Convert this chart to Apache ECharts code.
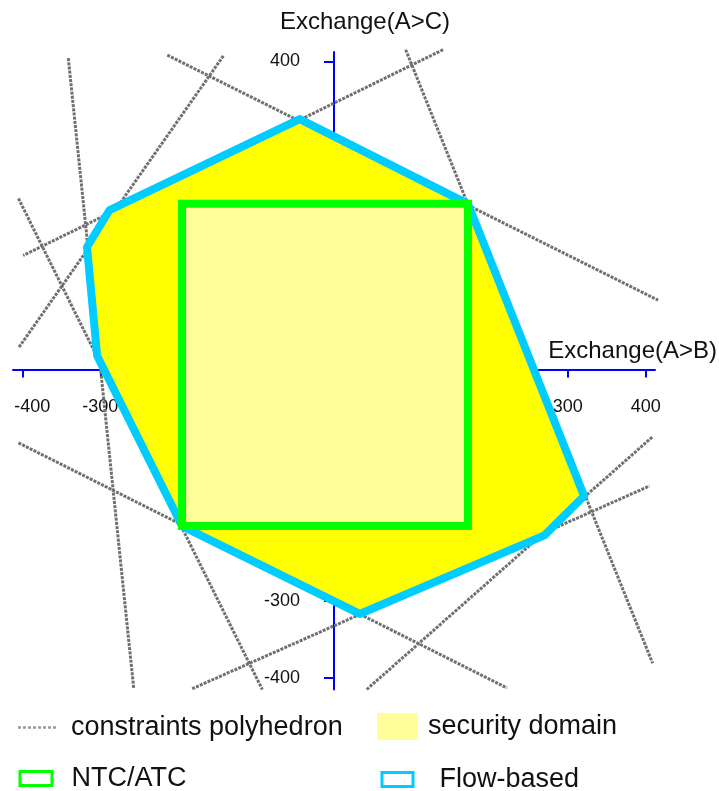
<!DOCTYPE html>
<html lang="en">
<head>
<meta charset="UTF-8">
<title>Flow-based vs NTC/ATC</title>
<script src="https://cdn.jsdelivr.net/npm/echarts@6/dist/echarts.min.js"></script>
<style>
    html, body { margin: 0; padding: 0; background: #fff; }
    #main { width: 719px; height: 791px; }
</style>
</head>
<body>
<div id="main"></div>
<script type="text/javascript">
    // constraint lines, two end points each: [Exchange(A>B), Exchange(A>C)]
    var constraintLines = [
        [[-341, 404], [-257, -414]],
        [[-142, 407], [-405, 28]],
        [[-214, 408], [416, 90]],
        [[140, 415], [-399, 148]],
        [[92, 415], [409, -381]],
        [[-405, 222], [-92, -415]],
        [[-405, -95], [222, -413]],
        [[-182, -414], [405, -151]],
        [[42, -415], [409, -87]]
    ];
    // flow-based domain vertices
    var flowBased = [[-44, 325], [172, 215], [321, -164], [270, -215], [33, -317],
                     [-195, -203], [-304, 18], [-317, 159], [-288, 207]];
    // NTC/ATC box
    var ntcAtc = [[-195, 215], [172, 215], [172, -203], [-195, -203]];
    var tickValues = [-400, -300, -200, -100, 0, 100, 200, 300, 400];
    var xLabelValues = [-400, -300, 300, 400];
    var yLabelValues = [-400, -300, 400];

    var FONT = "'Liberation Sans', Arial, sans-serif";
    var dashIcon = 'path://M0,0h3v2.5h-3zM5,0h3v2.5h-3zM10,0h3v2.5h-3zM15,0h3v2.5h-3zM20,0h3v2.5h-3zM25,0h3v2.5h-3zM30,0h3v2.5h-3zM35,0h3v2.5h-3z';

    function polygonRender(fill, stroke, join) {
        return function (params, api) {
            if (params.dataIndexInside !== 0) return null;
            var pts = [];
            for (var i = 0; i < params.dataInsideLength; i++) {
                pts.push(api.coord([api.value(0, i), api.value(1, i)]));
            }
            return {
                type: 'polygon',
                shape: { points: pts },
                style: { fill: fill, stroke: stroke, lineWidth: stroke ? 8 : 0, lineJoin: join }
            };
        };
    }

    function legendText(padLeft) {
        return { fontFamily: FONT, fontSize: 27, color: '#111', padding: [0, 0, 0, padLeft] };
    }

    var lineData = constraintLines.map(function (l) { return { coords: l }; });

    var myChart = echarts.init(document.getElementById('main'));
    myChart.setOption({
        animation: false,
        grid: { left: 13, right: 64, top: 52, bottom: 101.5, containLabel: false, outerBoundsMode: 'none' },
        xAxis: {
            type: 'value', min: -412, max: 412,
            position: 'bottom', offset: -320,
            name: 'Exchange(A>B)', nameLocation: 'end', nameGap: 62,
            nameTextStyle: { fontFamily: FONT, fontSize: 24, color: '#111', align: 'right', verticalAlign: 'bottom', padding: [0, 0, 6, 0] },
            axisLine: { onZero: false, lineStyle: { color: '#0000ff', width: 2 } },
            axisTick: { show: true, inside: false, length: 8, customValues: tickValues, lineStyle: { color: '#0000ff', width: 2 } },
            axisLabel: {
                customValues: xLabelValues, margin: 29, fontFamily: FONT, fontSize: 18, color: '#111',
                // the -400 label sits a bit to the right of its tick
                formatter: function (v) { return v === -400 ? '{m|' + v + '}' : String(v); },
                rich: { m: { fontFamily: FONT, fontSize: 18, color: '#111', padding: [0, 0, 0, 20] } }
            },
            splitLine: { show: false }
        },
        yAxis: {
            type: 'value', min: -415, max: 412,
            position: 'left', offset: -321,
            name: 'Exchange(A>C)', nameLocation: 'end', nameGap: 18,
            nameTextStyle: { fontFamily: FONT, fontSize: 24, color: '#111', padding: [0, 0, 0, 62] },
            axisLine: { onZero: false, lineStyle: { color: '#0000ff', width: 2 } },
            axisTick: { show: true, inside: false, length: 10, customValues: tickValues, lineStyle: { color: '#0000ff', width: 2 } },
            axisLabel: { customValues: yLabelValues, margin: 34, fontFamily: FONT, fontSize: 18, color: '#111' },
            splitLine: { show: false }
        },
        legend: [
            {
                left: 18, top: 714, padding: 0, selectedMode: false,
                itemWidth: 38, itemHeight: 2.5,
                data: [{ name: 'constraints polyhedron', icon: dashIcon, itemStyle: { color: '#9a9a9a', borderWidth: 0 } }],
                textStyle: legendText(10)
            },
            {
                left: 377, top: 713, padding: 0, selectedMode: false,
                itemWidth: 41, itemHeight: 27,
                data: [{ name: 'security domain', icon: 'rect', itemStyle: { color: '#ffff99', borderWidth: 0 } }],
                textStyle: legendText(5)
            },
            {
                left: 18.5, top: 765, padding: 0, selectedMode: false,
                itemWidth: 32, itemHeight: 14,
                data: [{ name: 'NTC/ATC', icon: 'rect', itemStyle: { color: '#fff', borderColor: '#00ff00', borderWidth: 3 } }],
                textStyle: legendText(14.5)
            },
            {
                left: 380.5, top: 766, padding: 0, selectedMode: false,
                itemWidth: 31, itemHeight: 14,
                data: [{ name: 'Flow-based', icon: 'rect', itemStyle: { color: '#fff', borderColor: '#00ccff', borderWidth: 3 } }],
                textStyle: legendText(21.5)
            }
        ],
        series: [
            {
                name: 'constraints polyhedron',
                type: 'lines',
                coordinateSystem: 'cartesian2d',
                clip: false,
                z: 2,
                lineStyle: { color: '#707070', width: 3, type: [3, 1.2], opacity: 1 },
                data: lineData
            },
            {
                name: 'Flow-based',
                type: 'custom',
                z: 3,
                renderItem: polygonRender('#ffff00', '#00ccff', 'round'),
                data: flowBased
            },
            {
                name: 'security domain',
                type: 'custom',
                z: 4,
                renderItem: polygonRender('#ffff99', null, 'miter'),
                data: ntcAtc
            },
            {
                name: 'NTC/ATC',
                type: 'custom',
                z: 5,
                renderItem: polygonRender('none', '#00ff00', 'miter'),
                data: ntcAtc
            }
        ]
    });
</script>
</body>
</html>
